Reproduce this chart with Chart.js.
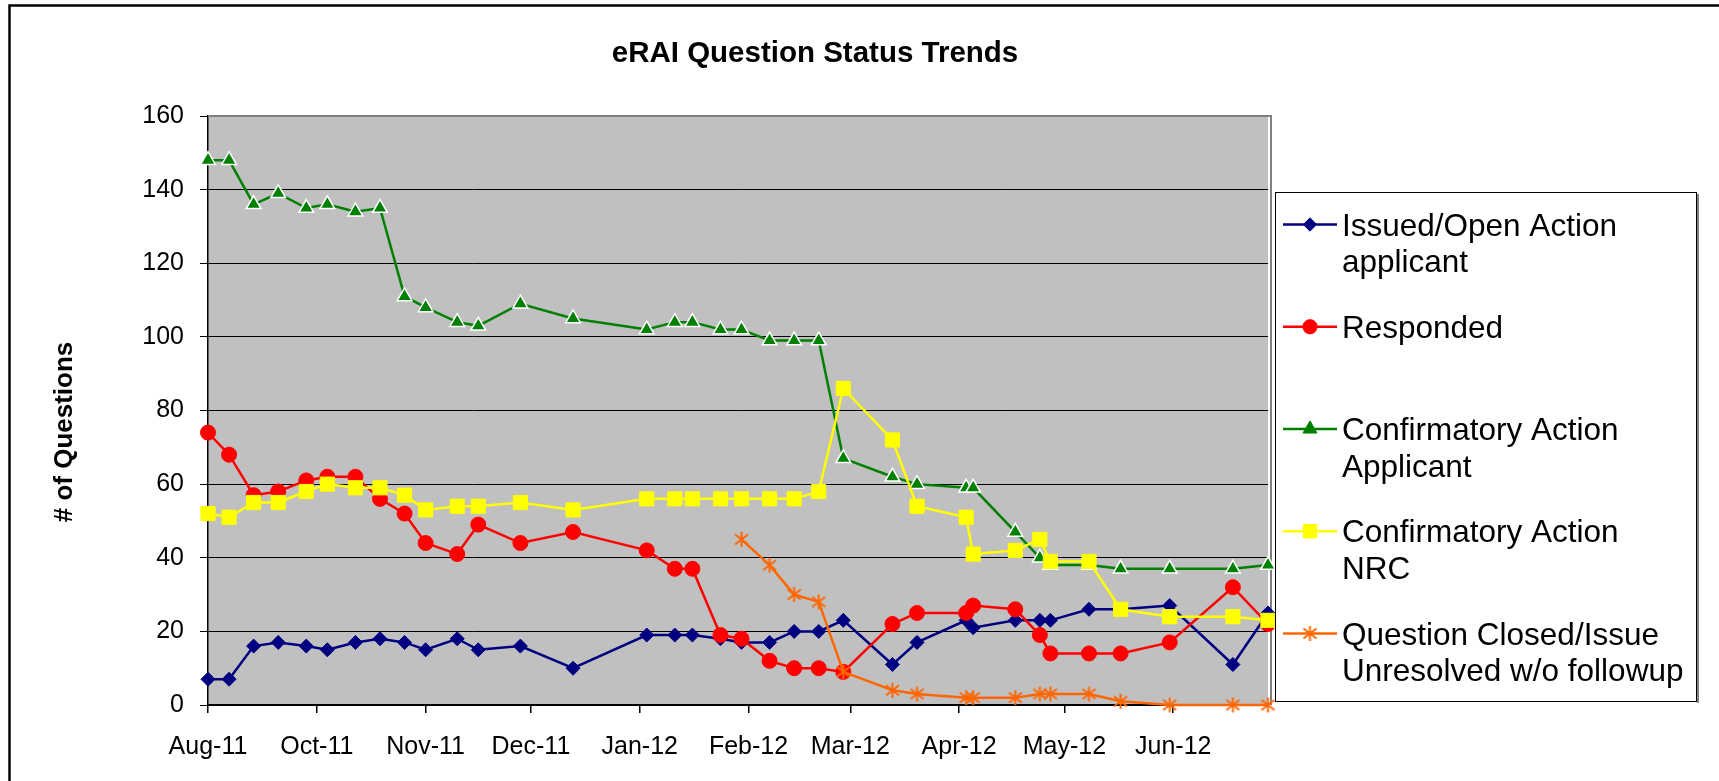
<!DOCTYPE html>
<html>
<head>
<meta charset="utf-8">
<title>eRAI Question Status Trends</title>
<script src="https://cdn.jsdelivr.net/npm/chart.js@4/dist/chart.umd.min.js"></script>
<style>
  html, body { margin: 0; padding: 0; background: #fff; }
  canvas { display: block; }
</style>
</head>
<body>
<canvas id="statusChart" width="1719" height="781"></canvas>
<script>
// status dates (weekly-ish snapshots)
const dates = [
  '2011-08-31', '2011-09-06', '2011-09-13', '2011-09-20', '2011-09-28',
  '2011-10-04', '2011-10-12', '2011-10-19', '2011-10-26', '2011-11-01',
  '2011-11-10', '2011-11-16', '2011-11-28', '2011-12-13', '2012-01-03',
  '2012-01-11', '2012-01-16', '2012-01-24', '2012-01-30', '2012-02-07',
  '2012-02-14', '2012-02-21', '2012-02-28', '2012-03-13', '2012-03-20',
  '2012-04-03', '2012-04-05', '2012-04-17', '2012-04-24', '2012-04-27',
  '2012-05-08', '2012-05-17', '2012-05-31', '2012-06-18', '2012-06-28'
];

const issuedOpen = [7, 7, 16, 17, 16, 15, 17, 18, 17, 15, 18, 15, 16, 10, 19, 19, 19, 18, 17, 17,
  20, 20, 23, 11, 17, 23, 21, 23, 23, 23, 26, 26, 27, 11, 25];
const responded = [74, 68, 57, 58, 61, 62, 62, 56, 52, 44, 41, 49, 44, 47, 42, 37, 37, 19, 18, 12,
  10, 10, 9, 22, 25, 25, 27, 26, 19, 14, 14, 14, 17, 32, 22];
const confirmApplicant = [148, 148, 136, 139, 135, 136, 134, 135, 111, 108, 104, 103, 109, 105, 102, 104, 104, 102, 102, 99,
  99, 99, 67, 62, 60, 59, 59, 47, 40, 38, 38, 37, 37, 37, 38];
const confirmNRC = [52, 51, 55, 55, 58, 60, 59, 59, 57, 53, 54, 54, 55, 53, 56, 56, 56, 56, 56, 56,
  56, 58, 86, 72, 54, 51, 41, 42, 45, 39, 39, 26, 24, 24, 23];
const closedUnresolved = [null, null, null, null, null, null, null, null, null, null, null, null, null, null, null, null, null, null, 45, 38,
  30, 28, 9, 4, 3, 2, 2, 2, 3, 3, 3, 1, 0, 0, 0];

const seriesNames = [
  ['Issued/Open Action', 'applicant'],
  ['Responded'],
  ['Confirmatory Action', 'Applicant'],
  ['Confirmatory Action', 'NRC'],
  ['Question Closed/Issue', 'Unresolved w/o followup']
];

const tickDates = ['2011-08-31', '2011-10-01', '2011-11-01', '2011-12-01', '2012-01-01',
  '2012-02-01', '2012-03-01', '2012-04-01', '2012-05-01', '2012-06-01'];
const tickLabels = ['Aug-11', 'Oct-11', 'Nov-11', 'Dec-11', 'Jan-12',
  'Feb-12', 'Mar-12', 'Apr-12', 'May-12', 'Jun-12'];

const FONT = '"Liberation Sans", Arial, sans-serif';

// day number from first date, used as the x value
const dayOf = d => (Date.parse(d) - Date.parse(dates[0])) / 86400000;
const pts = vals => dates.map((d, i) => ({ x: dayOf(d), y: vals[i] }));

// excel style asterisk marker
const star = document.createElement('canvas');
star.width = 17; star.height = 17;
(() => {
  const c = star.getContext('2d');
  c.strokeStyle = '#FF6600';
  c.lineWidth = 2;
  c.beginPath();
  c.moveTo(8.5, 1); c.lineTo(8.5, 16);
  c.moveTo(2, 3.5); c.lineTo(15, 13.5);
  c.moveTo(15, 3.5); c.lineTo(2, 13.5);
  c.stroke();
})();

function series(i, vals, color, style, radius, extra) {
  return Object.assign({
    label: seriesNames[i].join(' '),
    data: pts(vals),
    borderColor: color,
    backgroundColor: color,
    borderWidth: 2.5,
    pointStyle: style,
    pointRadius: radius,
    pointBorderWidth: 1,
    pointBorderColor: color,
    pointBackgroundColor: color,
    tension: 0,
    clip: false,
    order: 5 - i
  }, extra || {});
}

const datasets = [
  series(0, issuedOpen, '#000080', 'rectRot', 7),
  series(1, responded, '#FF0000', 'circle', 7.5),
  series(2, confirmApplicant, '#008000', 'triangle', 8.5, { pointBorderColor: '#FFFFFF', pointBorderWidth: 1.5 }),
  series(3, confirmNRC, '#FFFF00', 'rect', 10),
  series(4, closedUnresolved, '#FF6600', star, 8)
];

const decor = {
  id: 'decor',
  beforeDraw(chart) {
    const { ctx, chartArea: a } = chart;
    ctx.save();
    ctx.fillStyle = '#C0C0C0';
    ctx.fillRect(a.left, a.top, a.right - a.left, a.bottom - a.top);
    // outer chart frame
    ctx.strokeStyle = '#000';
    ctx.lineWidth = 2.5;
    ctx.strokeRect(9.5, 5.5, 2000, 1000);
    ctx.restore();
  },
  beforeDatasetsDraw(chart) {
    const { ctx, chartArea: a } = chart;
    ctx.save();
    ctx.strokeStyle = '#808080';
    ctx.lineWidth = 2;
    ctx.beginPath();
    ctx.moveTo(a.left, a.top);
    ctx.lineTo(a.right + 3, a.top);
    ctx.lineTo(a.right + 3, a.bottom);
    ctx.stroke();
    ctx.restore();
  },
  afterDraw(chart) {
    const ctx = chart.ctx;
    ctx.save();
    ctx.fillStyle = '#000';
    ctx.textAlign = 'center';
    ctx.textBaseline = 'middle';
    ctx.font = 'bold 29.5px ' + FONT;
    ctx.fillText('eRAI Question Status Trends', 815, 54);

    ctx.save();
    ctx.translate(65, 432);
    ctx.rotate(-Math.PI / 2);
    ctx.font = 'bold 26px ' + FONT;
    ctx.fillText('# of Questions', 0, 0);
    ctx.restore();

    // legend box
    ctx.fillStyle = '#fff';
    ctx.fillRect(1275, 192, 421, 510);
    ctx.strokeStyle = '#808080';
    ctx.lineWidth = 2;
    ctx.beginPath();
    ctx.moveTo(1698, 194); ctx.lineTo(1698, 703);
    ctx.stroke();
    ctx.strokeStyle = '#000';
    ctx.lineWidth = 1;
    ctx.strokeRect(1275.5, 192.5, 421, 509);

    ctx.font = '31.5px ' + FONT;
    ctx.textAlign = 'left';
    chart.data.datasets.forEach((ds, i) => {
      const y = 224.5 + i * 102.25;
      ctx.strokeStyle = ds.borderColor;
      ctx.lineWidth = 2.5;
      ctx.beginPath();
      ctx.moveTo(1283, y); ctx.lineTo(1337, y);
      ctx.stroke();
      ctx.fillStyle = ds.pointBackgroundColor;
      ctx.strokeStyle = ds.borderColor;
      ctx.lineWidth = 1;
      if (Chart.helpers && Chart.helpers.drawPoint) {
        Chart.helpers.drawPoint(ctx, {
          pointStyle: ds.pointStyle, radius: ds.pointRadius * 0.95,
          rotation: 0, borderWidth: 1
        }, 1310, y);
      }
      ctx.fillStyle = '#000';
      seriesNames[i].forEach((line, j) => ctx.fillText(line, 1342, y + 2.5 + j * 36.7));
    });
    ctx.restore();
  }
};

new Chart(document.getElementById('statusChart'), {
  type: 'line',
  data: { datasets },
  plugins: [decor],
  options: {
    responsive: false,
    devicePixelRatio: 1,
    animation: false,
    layout: { padding: { top: 116, right: 451, left: 0, bottom: 0 } },
    plugins: { legend: { display: false }, title: { display: false }, tooltip: { enabled: false } },
    scales: {
      x: {
        type: 'linear',
        min: 0,
        max: dayOf(dates[dates.length - 1]),
        afterBuildTicks: axis => { axis.ticks = tickDates.map(d => ({ value: dayOf(d) })); },
        afterFit: axis => { axis.height = 76; },
        grid: { drawOnChartArea: false, color: '#000', tickLength: 8, lineWidth: 1.5 },
        border: { color: '#000', width: 1.5 },
        ticks: {
          autoSkip: false, maxRotation: 0, padding: 19,
          color: '#000', font: { family: FONT, size: 25 },
          callback: (v, i) => tickLabels[i]
        }
      },
      y: {
        min: 0, max: 160,
        afterFit: axis => { axis.width = 208; },
        grid: { color: '#000', lineWidth: 1, tickLength: 8 },
        border: { color: '#000', width: 1.5 },
        ticks: { stepSize: 20, padding: 16, color: '#000', font: { family: FONT, size: 25 } }
      }
    }
  }
});
</script>
</body>
</html>
